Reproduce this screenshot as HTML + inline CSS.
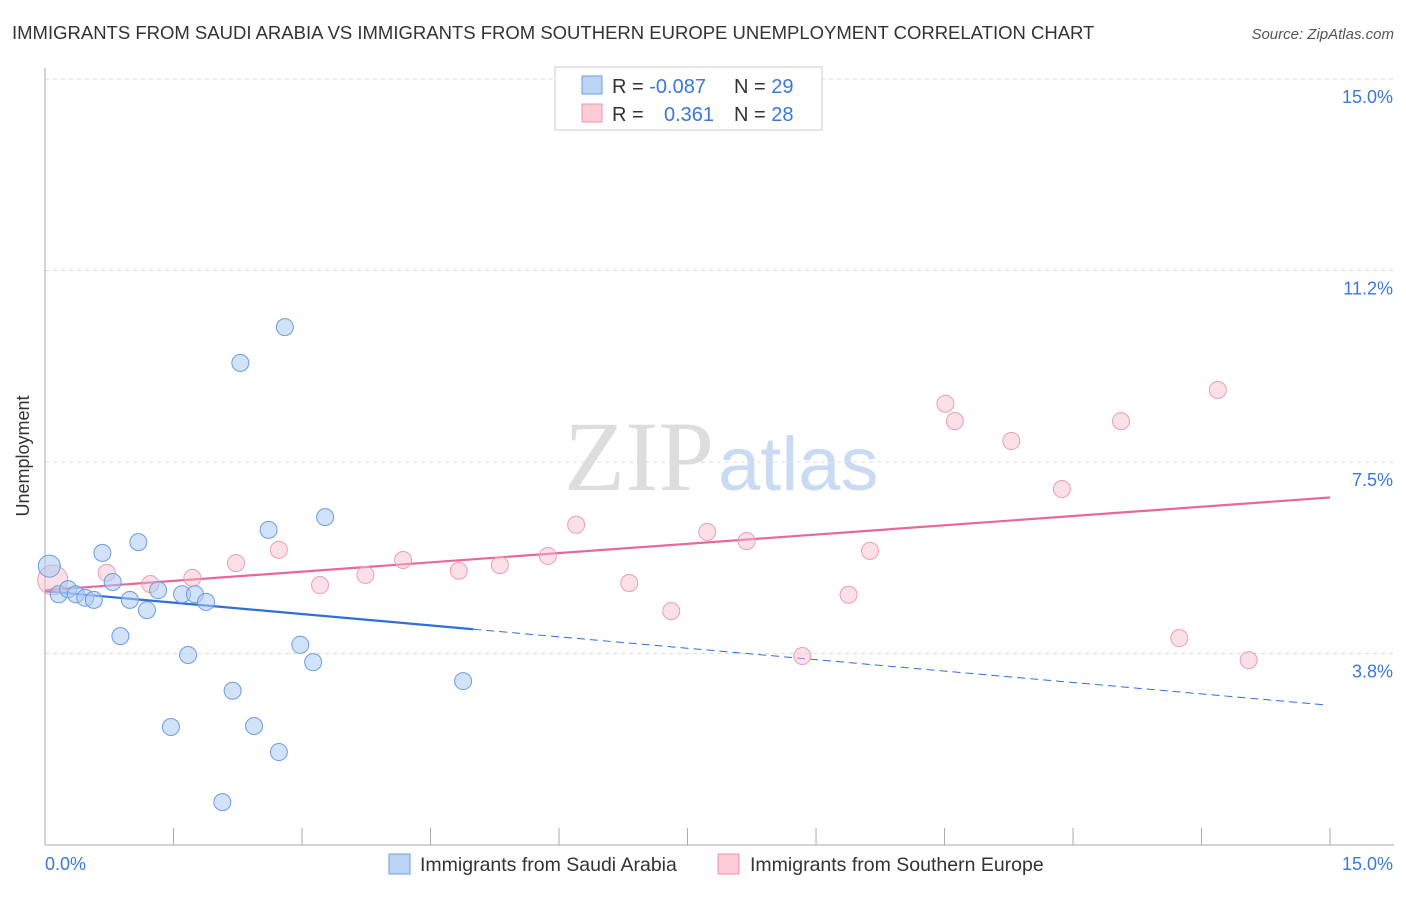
<!DOCTYPE html>
<html><head><meta charset="utf-8"><style>
body{margin:0;background:#fff;font-family:"Liberation Sans",sans-serif;}
</style></head><body>
<svg width="1406" height="892" xmlns="http://www.w3.org/2000/svg" font-family="Liberation Sans, sans-serif">
<text x="12" y="39" font-size="18.5" fill="#333">IMMIGRANTS FROM SAUDI ARABIA VS IMMIGRANTS FROM SOUTHERN EUROPE UNEMPLOYMENT CORRELATION CHART</text>
<text x="1394" y="39" font-size="15" fill="#555" font-style="italic" text-anchor="end">Source: ZipAtlas.com</text>
<text x="714" y="490" font-size="100" fill="#ddd" font-family="Liberation Serif, serif" text-anchor="end">ZIP</text>
<text x="718" y="490" font-size="76" fill="#c9dbf3">atlas</text>
<g id="grid"></g>
<line x1="45" y1="68" x2="45" y2="845" stroke="#aaa"/>
<line x1="45" y1="845" x2="1394" y2="845" stroke="#aaa"/>
<g id="xticks"></g>
<text x="29" y="456" font-size="18" fill="#333" text-anchor="middle" transform="rotate(-90 29 456)">Unemployment</text>
<text x="45" y="870" font-size="18" fill="#3b78d8">0.0%</text>
<text x="1393" y="870" font-size="18" fill="#3b78d8" text-anchor="end">15.0%</text>
<g id="lines"></g>
<g id="points"></g>
<g>
<rect x="555" y="67" width="267" height="63" fill="#fff" stroke="#ccc"/>
<rect x="582" y="76" width="20" height="18" fill="#bcd5f5" stroke="#6b9de0"/>
<rect x="582" y="104" width="20" height="18" fill="#fcccd8" stroke="#eb93ac"/>
<text x="612" y="93" font-size="20" fill="#333">R = <tspan fill="#3b78d8">-0.087</tspan><tspan x="734">N = </tspan><tspan fill="#3b78d8">29</tspan></text>
<text x="612" y="121" font-size="20" fill="#333">R = <tspan x="664" fill="#3b78d8">0.361</tspan><tspan x="734">N = </tspan><tspan fill="#3b78d8">28</tspan></text>
</g>
<g>
<rect x="389" y="854" width="21" height="20" fill="#bcd5f5" stroke="#6b9de0"/>
<text x="420" y="871" font-size="19.5" fill="#333">Immigrants from Saudi Arabia</text>
<rect x="718" y="854" width="21" height="20" fill="#fcccd8" stroke="#eb93ac"/>
<text x="750" y="871" font-size="19.5" fill="#333">Immigrants from Southern Europe</text>
</g>
</svg>
<script>
const yTicks=[3.8,7.5,11.2,15.0];
const yTickVals=[3.75,7.5,11.25,15];
const xTickVals=[1.5,3,4.5,6,7.5,9,10.5,12,13.5,15];
const blueX=[0.05,0.16,0.27,0.36,0.47,0.57,0.67,0.79,0.88,0.99,1.09,1.19,1.32,1.47,1.60,1.67,1.75,1.88,2.07,2.19,2.28,2.44,2.61,2.73,2.80,2.98,3.13,3.27,4.88];
const blueY=[5.46,4.91,5.01,4.91,4.84,4.80,5.72,5.15,4.09,4.80,5.93,4.60,4.99,2.31,4.91,3.72,4.91,4.76,0.84,3.02,9.44,2.33,6.17,1.82,10.14,3.92,3.58,6.42,3.21];
const pinkX=[0.09,0.72,1.23,1.72,2.23,2.73,3.21,3.74,4.18,4.83,5.31,5.87,6.20,6.82,7.31,7.73,8.19,8.84,9.38,9.63,10.51,10.62,11.28,11.87,12.56,13.24,13.69,14.05];
const pinkY=[5.19,5.33,5.11,5.23,5.52,5.78,5.09,5.29,5.58,5.37,5.48,5.66,6.27,5.13,4.58,6.13,5.95,3.70,4.90,5.76,8.64,8.30,7.91,6.97,8.30,4.05,8.91,3.62];
const blueTrend=[4.97,-0.149];
const pinkTrend=[4.99,0.121];
const X=v=>45+v*85.67, Y=v=>845-v*51.07;
const NS='http://www.w3.org/2000/svg';
function mk(t,a,p){const e=document.createElementNS(NS,t);for(const k in a)e.setAttribute(k,a[k]);document.getElementById(p).appendChild(e);return e;}
yTickVals.forEach((v,i)=>{
 const l=mk('line',{x1:45,x2:1394,y1:Y(v),y2:Y(v),stroke:'#ddd','stroke-dasharray':'4,4'},'grid');
 
 
 const t=mk('text',{x:1393,y:Y(v)+24,'font-size':18,fill:'#3b78d8','text-anchor':'end'},'grid');
 t.textContent=yTicks[i].toFixed(1)+'%';
 
 
});
xTickVals.forEach(v=>{
 const l=mk('line',{x1:X(v),x2:X(v),y1:828,y2:845,stroke:'#aaa'},'xticks');
 
 
});
const bEnd=5.0;
let l=mk('line',{x1:X(0),y1:Y(blueTrend[0]),x2:X(bEnd),y2:Y(blueTrend[0]+blueTrend[1]*bEnd),stroke:'#2f6fd6','stroke-width':2.2},'lines');


l=mk('line',{x1:X(bEnd),y1:Y(blueTrend[0]+blueTrend[1]*bEnd),x2:X(14.94),y2:Y(blueTrend[0]+blueTrend[1]*14.94),stroke:'#2f6fd6','stroke-width':1,'stroke-dasharray':'8,5'},'lines');


l=mk('line',{x1:X(0),y1:Y(pinkTrend[0]),x2:X(15),y2:Y(pinkTrend[0]+pinkTrend[1]*15),stroke:'#e8689a','stroke-width':2.2},'lines');


pinkX.forEach((v,i)=>{
 const c=mk('circle',{cx:X(v),cy:Y(pinkY[i]),r:i==0?15:8.5,fill:'rgba(248,186,204,0.45)',stroke:'#eb9db4','stroke-width':1},'points');
 
 
});
blueX.forEach((v,i)=>{
 const c=mk('circle',{cx:X(v),cy:Y(blueY[i]),r:i==0?11:8.5,fill:'rgba(173,203,243,0.55)',stroke:'#6b9de0','stroke-width':1},'points');
 
 
});
</script>
</body></html>
